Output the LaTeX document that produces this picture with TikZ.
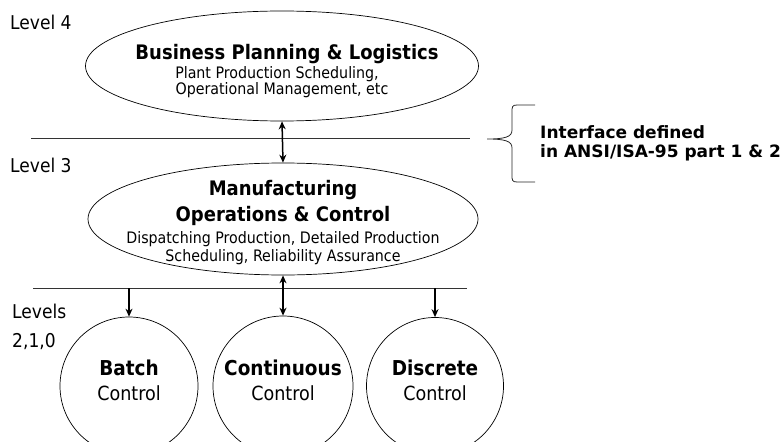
\documentclass[tikz,border=0pt]{standalone}
\usepackage{fontspec}
\setmainfont{DejaVu Sans Condensed}
\newfontfamily\widefont{DejaVu Sans}
\usetikzlibrary{shapes.geometric,arrows.meta}
\tikzset{
  shp/.style={draw=black, line width=0.7pt, inner sep=0pt},
  sep/.style={draw=black!80, line width=0.9pt},
  con/.style={draw=black, line width=1.5pt, -{Stealth[length=8pt,width=7pt]}},
  dcon/.style={draw=black, line width=1.5pt, {Stealth[length=8pt,width=7pt]}-{Stealth[length=8pt,width=7pt]}},
  lvl/.style={anchor=base west, inner sep=0pt, font=\fontsize{19}{22}\selectfont},
  ttl/.style={anchor=base, inner sep=0pt, font=\bfseries\fontsize{20}{24}\selectfont},
  sub/.style={anchor=base, inner sep=0pt, font=\fontsize{15.8}{18}\selectfont},
  ctl/.style={anchor=base, inner sep=0pt, font=\fontsize{19.5}{22}\selectfont},
  ctlb/.style={anchor=base, inner sep=0pt, font=\bfseries\fontsize{20.5}{22}\selectfont},
  itf/.style={anchor=base west, inner sep=0pt, font=\widefont\bfseries\fontsize{17}{20}\selectfont},
}
\begin{document}
\begin{tikzpicture}[x=1pt,y=-1pt]
\useasboundingbox (0,0) rectangle (783,441);
% shapes
\node[shp, ellipse, minimum width=393pt, minimum height=110pt] (bpl) at (282,66) {};
\node[shp, ellipse, minimum width=390pt, minimum height=112pt] (moc) at (283,219) {};
\node[shp, circle, minimum size=138pt] (batch) at (129,386) {};
\node[shp, circle, minimum size=140pt] (cont) at (283,386) {};
\node[shp, circle, minimum size=137pt] (disc) at (435,386) {};
% separator lines
\coordinate (l1a) at (31,138);
\coordinate (l1b) at (470,138);
\coordinate (l2a) at (33,288);
\coordinate (l2b) at (467,288);
\draw[sep] (l1a) -- (l1b);
\draw[sep] (l2a) -- (l2b);
% connectors
\draw[dcon] (bpl.south) -- (moc.north);
\draw[dcon] (moc.south) -- (cont.north);
\coordinate (bt) at (batch.north |- l2a);
\coordinate (dt) at (disc.north |- l2a);
\draw[con] (bt) -- (batch.north);
\draw[con] (dt) -- (disc.north);
% brace
\coordinate (bra) at (535,105);
\coordinate (brb) at (535,182);
\coordinate (brc) at (487,139);
\draw[line width=0.8pt, draw=black!85] (bra) -- (517,105) .. controls (512,105) and (512,107) .. (512,112)
  -- (512,130) .. controls (512,137) and (505,139) .. (brc)
  .. controls (505,139) and (512,141) .. (512,148)
  -- (512,175) .. controls (512,180) and (512,182) .. (517,182) -- (brb);
% labels
\node[lvl] (lv4) at (10,30) {Level 4};
\node[lvl] (lv3) at (10,172) {Level 3};
\node[lvl] (lv2a) at (12,318) {Levels};
\node[lvl] (lv2b) at (12,347) {2,1,0};
\node[ttl] (t1) at (287,60) {Business Planning \& Logistics};
\node[sub] (t1a) at (277,79) {Plant Production Scheduling,};
\node[sub] (t1b) at (282,95) {Operational Management, etc};
\node[ttl] (t2) at (283,195) {Manufacturing};
\node[ttl] (t2b) at (283,221) {Operations \& Control};
\node[sub] (t2c) at (283,243) {Dispatching Production, Detailed Production};
\node[sub] (t2d) at (283,261) {Scheduling, Reliability Assurance};
\node[ctlb] (b1) at (129,375) {Batch};
\node[ctl] (b2) at (129,400) {Control};
\node[ctlb] (c1) at (283,375) {Continuous};
\node[ctl] (c2) at (283,400) {Control};
\node[ctlb] (d1) at (435,375) {Discrete};
\node[ctl] (d2) at (435,400) {Control};
\node[itf] (i1) at (540,138) {Interface defined};
\node[itf] (i2) at (540,157) {in ANSI/ISA-95 part 1 \& 2};
\end{tikzpicture}
\end{document}
